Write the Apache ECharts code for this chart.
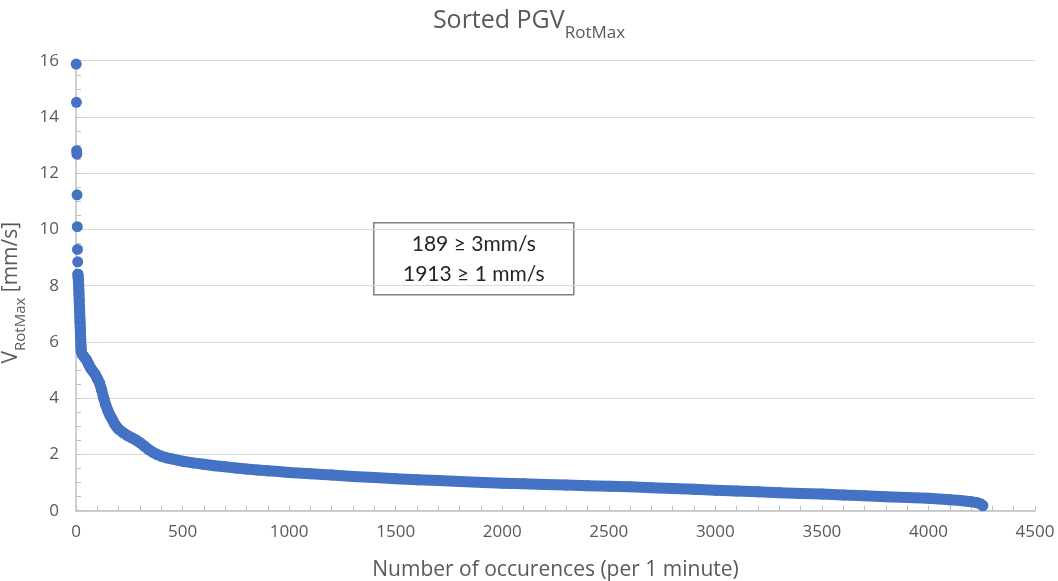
<!DOCTYPE html>
<html>
<head>
<meta charset="utf-8">
<script src="https://cdn.jsdelivr.net/npm/echarts@6/dist/echarts.min.js"></script>
<style>
  html, body { margin: 0; padding: 0; background: #ffffff; }
  #chart { width: 1058px; height: 581px; }
</style>
</head>
<body>
<div id="chart"></div>
<script>
// Rank of each one-minute window (sorted by peak velocity, descending)
const ranks = [
  1, 2, 3, 4, 5, 6, 7, 8,
  9, 10, 11, 12, 13, 14, 15, 16, 17, 18, 19, 20, 21, 22, 23, 24, 25,
  30, 40, 50, 60, 70, 80, 90, 100, 110, 120, 130, 140, 150, 160, 170, 180, 189,
  200, 220, 240, 260, 280, 300, 320, 340, 360, 380, 400, 425, 450, 475, 500,
  550, 600, 650, 700, 750, 800, 850, 900, 950, 1000,
  1100, 1200, 1300, 1400, 1500, 1600, 1700, 1800, 1913,
  2000, 2100, 2200, 2300, 2400, 2500, 2600, 2700, 2800, 2900, 3000,
  3100, 3200, 3300, 3400, 3500, 3600, 3700, 3800, 3900, 4000,
  4100, 4150, 4200, 4230, 4245, 4255
];

// Peak rotational velocity for each rank [mm/s]
const pgv = [
  15.88, 14.52, 12.80, 12.68, 11.23, 10.10, 9.29, 8.85,
  8.41, 8.30, 8.20, 8.10, 7.90, 7.70, 7.50, 7.30, 7.10, 6.90, 6.70, 6.50, 6.30, 6.10, 5.90, 5.75, 5.65,
  5.55, 5.45, 5.35, 5.20, 5.05, 4.95, 4.85, 4.70, 4.55, 4.30, 4.00, 3.75, 3.55, 3.38, 3.25, 3.10, 3.00,
  2.90, 2.78, 2.68, 2.60, 2.52, 2.42, 2.30, 2.18, 2.08, 2.00, 1.94, 1.88, 1.84, 1.80, 1.76,
  1.70, 1.65, 1.60, 1.56, 1.52, 1.48, 1.45, 1.42, 1.39, 1.36,
  1.31, 1.27, 1.22, 1.18, 1.14, 1.10, 1.07, 1.04, 1.00,
  0.98, 0.96, 0.93, 0.91, 0.89, 0.87, 0.85, 0.82, 0.79, 0.76, 0.73,
  0.70, 0.67, 0.64, 0.61, 0.59, 0.56, 0.53, 0.50, 0.47, 0.44,
  0.39, 0.36, 0.32, 0.28, 0.24, 0.18
];

// Counts shown in the note box
const countAbove3 = 189;
const countAbove1 = 1913;

// Isolated peaks are drawn as separate dots; the dense run from here on forms a band
const bandStart = 8;

const xTicks = { min: 0, max: 4500, interval: 500 };
const yTicks = { min: 0, max: 16, interval: 2 };

const points = ranks.map((r, i) => [r, pgv[i]]);
const bandPoints = points.slice(bandStart);

const blue = '#4472C4';
const labelColor = '#595959';
const font = '"Open Sans", "Noto Sans", sans-serif';

const chart = echarts.init(document.getElementById('chart'), null, { renderer: 'canvas' });

chart.setOption({
  animation: false,
  backgroundColor: '#ffffff',
  title: {
    text: '{a|Sorted PGV}{b|RotMax}',
    left: 'center',
    top: 3,
    textStyle: {
      fontWeight: 'normal',
      rich: {
        a: { fontFamily: font, fontSize: 25, fontWeight: 'normal', color: labelColor, lineHeight: 32, verticalAlign: 'top' },
        b: { fontFamily: font, fontSize: 17, fontWeight: 'normal', color: labelColor, lineHeight: 20, padding: [17, 0, 0, 0], verticalAlign: 'top' }
      }
    }
  },
  grid: { left: 76, right: 23, top: 60.7, bottom: 70.3, containLabel: false, outerBoundsMode: 'none' },
  xAxis: {
    type: 'value',
    min: xTicks.min, max: xTicks.max, interval: xTicks.interval,
    name: 'Number of occurences (per 1 minute)',
    nameLocation: 'middle',
    nameGap: 49,
    nameTextStyle: { fontFamily: font, fontSize: 21, color: labelColor },
    axisLine: { show: true, lineStyle: { color: '#bfbfbf', width: 1.5 } },
    axisTick: { show: true, inside: true, length: 5, lineStyle: { color: '#bfbfbf' } },
    minorTick: { show: true, splitNumber: 5, length: 5, lineStyle: { color: '#bfbfbf' } },
    splitLine: { show: false },
    axisLabel: { fontFamily: font, fontSize: 17, color: labelColor, margin: 13, formatter: v => String(v) }
  },
  yAxis: {
    type: 'value',
    min: yTicks.min, max: yTicks.max, interval: yTicks.interval,
    name: '{v|V}{s|RotMax}{v| [mm/s]}',
    nameLocation: 'middle',
    nameRotate: 90,
    nameGap: 45,
    nameTextStyle: {
      padding: [0, 14, 0, 0],
      rich: {
        v: { fontFamily: font, fontSize: 21, color: labelColor, lineHeight: 26, verticalAlign: 'top' },
        s: { fontFamily: font, fontSize: 15, color: labelColor, lineHeight: 18, padding: [13, 0, 0, 0], verticalAlign: 'top' }
      }
    },
    axisLine: { show: true, lineStyle: { color: '#bfbfbf', width: 1.5 } },
    axisTick: { show: true, inside: true, length: 5, lineStyle: { color: '#bfbfbf' } },
    minorTick: { show: true, splitNumber: 4, length: 5, lineStyle: { color: '#bfbfbf' } },
    splitLine: { show: true, lineStyle: { color: '#d9d9d9', width: 1.2 } },
    axisLabel: { fontFamily: font, fontSize: 17, color: labelColor, margin: 17, formatter: v => String(v) }
  },
  series: [
    {
      type: 'line',
      data: bandPoints,
      showSymbol: false,
      lineStyle: { color: blue, width: 11, cap: 'round', join: 'round' },
      silent: true,
      z: 2
    },
    {
      type: 'scatter',
      data: points,
      symbol: 'circle',
      symbolSize: 11,
      itemStyle: { color: blue, opacity: 1 },
      z: 3
    }
  ],
  graphic: [
    {
      type: 'group',
      left: 373,
      top: 222,
      children: [
        {
          type: 'rect',
          shape: { x: 0, y: 0, width: 200, height: 72 },
          style: { fill: '#ffffff', stroke: '#808080', lineWidth: 1.5 }
        },
        {
          type: 'text',
          style: {
            x: 100, y: 21,
            text: countAbove3 + ' \u2265 3mm/s',
            fontFamily: 'Lato, "Open Sans", sans-serif',
            fontSize: 21,
            fill: '#262626',
            align: 'center',
            verticalAlign: 'middle'
          }
        },
        {
          type: 'text',
          style: {
            x: 100, y: 51,
            text: countAbove1 + ' \u2265 1 mm/s',
            fontFamily: 'Lato, "Open Sans", sans-serif',
            fontSize: 21,
            fill: '#262626',
            align: 'center',
            verticalAlign: 'middle'
          }
        }
      ]
    }
  ]
});
</script>
</body>
</html>
